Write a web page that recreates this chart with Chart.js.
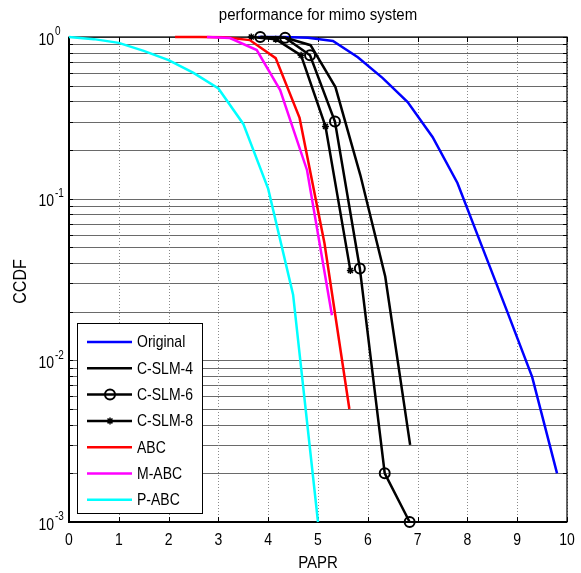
<!DOCTYPE html>
<html>
<head>
<meta charset="utf-8">
<script src="https://cdn.jsdelivr.net/npm/chart.js@4.4.1/dist/chart.umd.min.js"></script>
<style>
  html, body { margin: 0; padding: 0; background: #fff; }
</style>
</head>
<body>
<canvas id="ccdfChart" width="581" height="573"></canvas>
<script>
// axis ticks
const xTicks = [0, 1, 2, 3, 4, 5, 6, 7, 8, 9, 10];
const yDecades = [-3, -2, -1, 0];

// series (PAPR in dB, CCDF)
const originalX = [3.8, 4.3, 4.8, 5.3, 5.8, 6.3, 6.8, 7.3, 7.8, 8.3, 8.8, 9.3, 9.8];
const originalY = [1, 1, 0.99, 0.944, 0.75, 0.557, 0.396, 0.241, 0.125, 0.05, 0.02, 0.0079, 0.002];

const cslm4X = [3.85, 4.35, 4.85, 5.35, 5.85, 6.35, 6.85];
const cslm4Y = [1, 0.99, 0.89, 0.49, 0.14, 0.033, 0.003];

const cslm6X = [3.84, 4.34, 4.84, 5.34, 5.84, 6.34, 6.84];
const cslm6Y = [1, 0.99, 0.77, 0.30, 0.037, 0.002, 0.001];

const cslm8X = [3.66, 4.15, 4.66, 5.15, 5.65];
const cslm8Y = [1, 0.97, 0.77, 0.28, 0.036];

const abcX = [2.13, 2.63, 3.13, 3.63, 4.15, 4.63, 5.13, 5.63];
const abcY = [1, 1, 0.995, 0.957, 0.74, 0.316, 0.053, 0.005];

const mabcX = [2.77, 3.23, 3.77, 4.24, 4.78, 5.28];
const mabcY = [1, 0.985, 0.83, 0.47, 0.15, 0.019];

const pabcX = [0, 0.5, 1, 1.5, 2, 2.5, 3, 3.5, 4, 4.5, 5];
const pabcY = [1, 0.97, 0.92, 0.82, 0.72, 0.60, 0.48, 0.29, 0.115, 0.0255, 0.001];

const FONT = '"Liberation Sans", Arial, sans-serif';

function pts(xs, ys) {
    return xs.map((x, i) => ({ x: x, y: ys[i] }));
}

function series(label, xs, ys, color, order, extra) {
    return Object.assign({
        label: label,
        data: pts(xs, ys),
        borderColor: color,
        backgroundColor: color,
        borderWidth: 2.5,
        pointRadius: 0,
        tension: 0,
        clip: false,
        order: order
    }, extra || {});
}

// log grid values: 1..9 x each decade
const yGrid = [];
yDecades.forEach(d => {
    for (let k = 1; k <= 9; k++) {
        const v = k * Math.pow(10, d);
        if (v <= 1.0000001) yGrid.push(v);
    }
});

// text a bit taller than wide, like the original export
function tallText(ctx, str, x, y, sy) {
    ctx.save();
    ctx.translate(x, y);
    ctx.scale(1, sy);
    ctx.fillText(str, 0, 0);
    ctx.restore();
}

function drawMarker(ctx, style, r, x, y, color, bw) {
    ctx.save();
    ctx.strokeStyle = color;
    ctx.lineWidth = bw;
    ctx.beginPath();
    if (style === "circle") {
        ctx.arc(x, y, r, 0, Math.PI * 2);
    } else if (style === "star") {
        for (let a = 0; a < 4; a++) {
            const ang = a * Math.PI / 4;
            ctx.moveTo(x - Math.cos(ang) * r, y - Math.sin(ang) * r);
            ctx.lineTo(x + Math.cos(ang) * r, y + Math.sin(ang) * r);
        }
    }
    ctx.stroke();
    ctx.restore();
}

const matlabAxes = {
    id: "matlabAxes",
    beforeDatasetsDraw(chart) {
        const { ctx, chartArea: a, scales: { x, y } } = chart;
        ctx.save();

        // horizontal grid (minor log lines)
        ctx.strokeStyle = "#6a6a6a";
        ctx.lineWidth = 1;
        yGrid.forEach(v => {
            const py = Math.round(y.getPixelForValue(v)) + 0.5;
            ctx.beginPath();
            ctx.moveTo(a.left, py);
            ctx.lineTo(a.right, py);
            ctx.stroke();
        });

        // vertical dotted grid
        ctx.strokeStyle = "#8a8a8a";
        ctx.setLineDash([1, 2]);
        xTicks.forEach(t => {
            const px = Math.round(x.getPixelForValue(t)) + 0.5;
            ctx.beginPath();
            ctx.moveTo(px, a.top);
            ctx.lineTo(px, a.bottom);
            ctx.stroke();
        });
        ctx.setLineDash([]);

        // ticks
        ctx.strokeStyle = "#000";
        ctx.lineWidth = 1;
        xTicks.forEach(t => {
            const px = Math.round(x.getPixelForValue(t)) + 0.5;
            ctx.beginPath();
            ctx.moveTo(px, a.bottom);
            ctx.lineTo(px, a.bottom - 5);
            ctx.moveTo(px, a.top);
            ctx.lineTo(px, a.top + 5);
            ctx.stroke();
        });
        yGrid.forEach(v => {
            const py = Math.round(y.getPixelForValue(v)) + 0.5;
            ctx.beginPath();
            ctx.moveTo(a.left, py);
            ctx.lineTo(a.left + 4, py);
            ctx.moveTo(a.right, py);
            ctx.lineTo(a.right - 4, py);
            ctx.stroke();
        });

        // box
        ctx.lineWidth = 1.2;
        ctx.strokeRect(a.left, a.top, a.right - a.left, a.bottom - a.top);
        ctx.lineWidth = 2;
        ctx.beginPath();
        ctx.moveTo(a.left, a.top);
        ctx.lineTo(a.left, a.bottom);
        ctx.lineTo(a.right, a.bottom);
        ctx.stroke();

        ctx.restore();
    },
    afterDraw(chart) {
        const { ctx, chartArea: a, scales: { x, y } } = chart;
        ctx.save();
        ctx.fillStyle = "#000";

        // x tick labels
        ctx.font = "14px " + FONT;
        ctx.textAlign = "center";
        ctx.textBaseline = "middle";
        xTicks.forEach(t => {
            tallText(ctx, String(t), x.getPixelForValue(t), a.bottom + 18, 1.2);
        });

        // y tick labels 10^n
        yDecades.forEach(d => {
            const py = y.getPixelForValue(Math.pow(10, d));
            ctx.font = "14px " + FONT;
            ctx.textAlign = "right";
            ctx.textBaseline = "middle";
            tallText(ctx, "10", 54, py + 3, 1.2);
            ctx.font = "10px " + FONT;
            ctx.textAlign = "left";
            tallText(ctx, String(d), 55, py - 5, 1.2);
        });

        // title and axis labels
        ctx.font = "15px " + FONT;
        ctx.textAlign = "center";
        ctx.textBaseline = "middle";
        tallText(ctx, "performance for mimo system", (a.left + a.right) / 2, 15, 1.1);

        ctx.font = "15px " + FONT;
        tallText(ctx, "PAPR", (a.left + a.right) / 2, 563, 1.15);

        ctx.save();
        ctx.translate(21, (a.top + a.bottom) / 2 + 2);
        ctx.rotate(-Math.PI / 2);
        ctx.font = "16px " + FONT;
        ctx.scale(1, 1.1);
        ctx.fillText("CCDF", 0, 0);
        ctx.restore();

        // legend box
        const lx = 77, ly = 323, lw = 125, lh = 190;
        ctx.fillStyle = "#fff";
        ctx.fillRect(lx, ly, lw, lh);
        ctx.strokeStyle = "#000";
        ctx.lineWidth = 1;
        ctx.strokeRect(lx + 0.5, ly + 0.5, lw, lh);

        ctx.font = "14px " + FONT;
        ctx.textAlign = "left";
        ctx.textBaseline = "middle";
        chart.data.datasets.forEach((ds, i) => {
            const ry = 342 + i * 26.3;
            ctx.strokeStyle = ds.borderColor;
            ctx.lineWidth = ds.borderWidth;
            ctx.beginPath();
            ctx.moveTo(87, ry);
            ctx.lineTo(132, ry);
            ctx.stroke();
            if (ds.pointRadius > 0) {
                drawMarker(ctx, ds.pointStyle, ds.pointRadius, 110, ry, ds.borderColor, ds.pointBorderWidth);
            }
            ctx.fillStyle = "#000";
            tallText(ctx, ds.label, 137, ry + 1, 1.15);
        });

        ctx.restore();
    }
};

new Chart(document.getElementById("ccdfChart"), {
    type: "line",
    data: {
        datasets: [
            series("Original", originalX, originalY, "#0000ff", 7),
            series("C-SLM-4", cslm4X, cslm4Y, "#000000", 6),
            series("C-SLM-6", cslm6X, cslm6Y, "#000000", 5, {
                pointStyle: "circle", pointRadius: 5, pointBorderWidth: 2,
                pointBackgroundColor: "rgba(0,0,0,0)", pointBorderColor: "#000"
            }),
            series("C-SLM-8", cslm8X, cslm8Y, "#000000", 4, {
                pointStyle: "star", pointRadius: 3.5, pointBorderWidth: 1.5,
                pointBorderColor: "#000"
            }),
            series("ABC", abcX, abcY, "#ff0000", 3),
            series("M-ABC", mabcX, mabcY, "#ff00ff", 2),
            series("P-ABC", pabcX, pabcY, "#00ffff", 1)
        ]
    },
    options: {
        responsive: false,
        animation: false,
        layout: { padding: { left: 69, right: 14, top: 37, bottom: 51 } },
        scales: {
            x: { type: "linear", min: 0, max: 10, display: false },
            y: { type: "logarithmic", min: 0.001, max: 1, display: false }
        },
        plugins: {
            legend: { display: false },
            tooltip: { enabled: false }
        }
    },
    plugins: [matlabAxes]
});
</script>
</body>
</html>
